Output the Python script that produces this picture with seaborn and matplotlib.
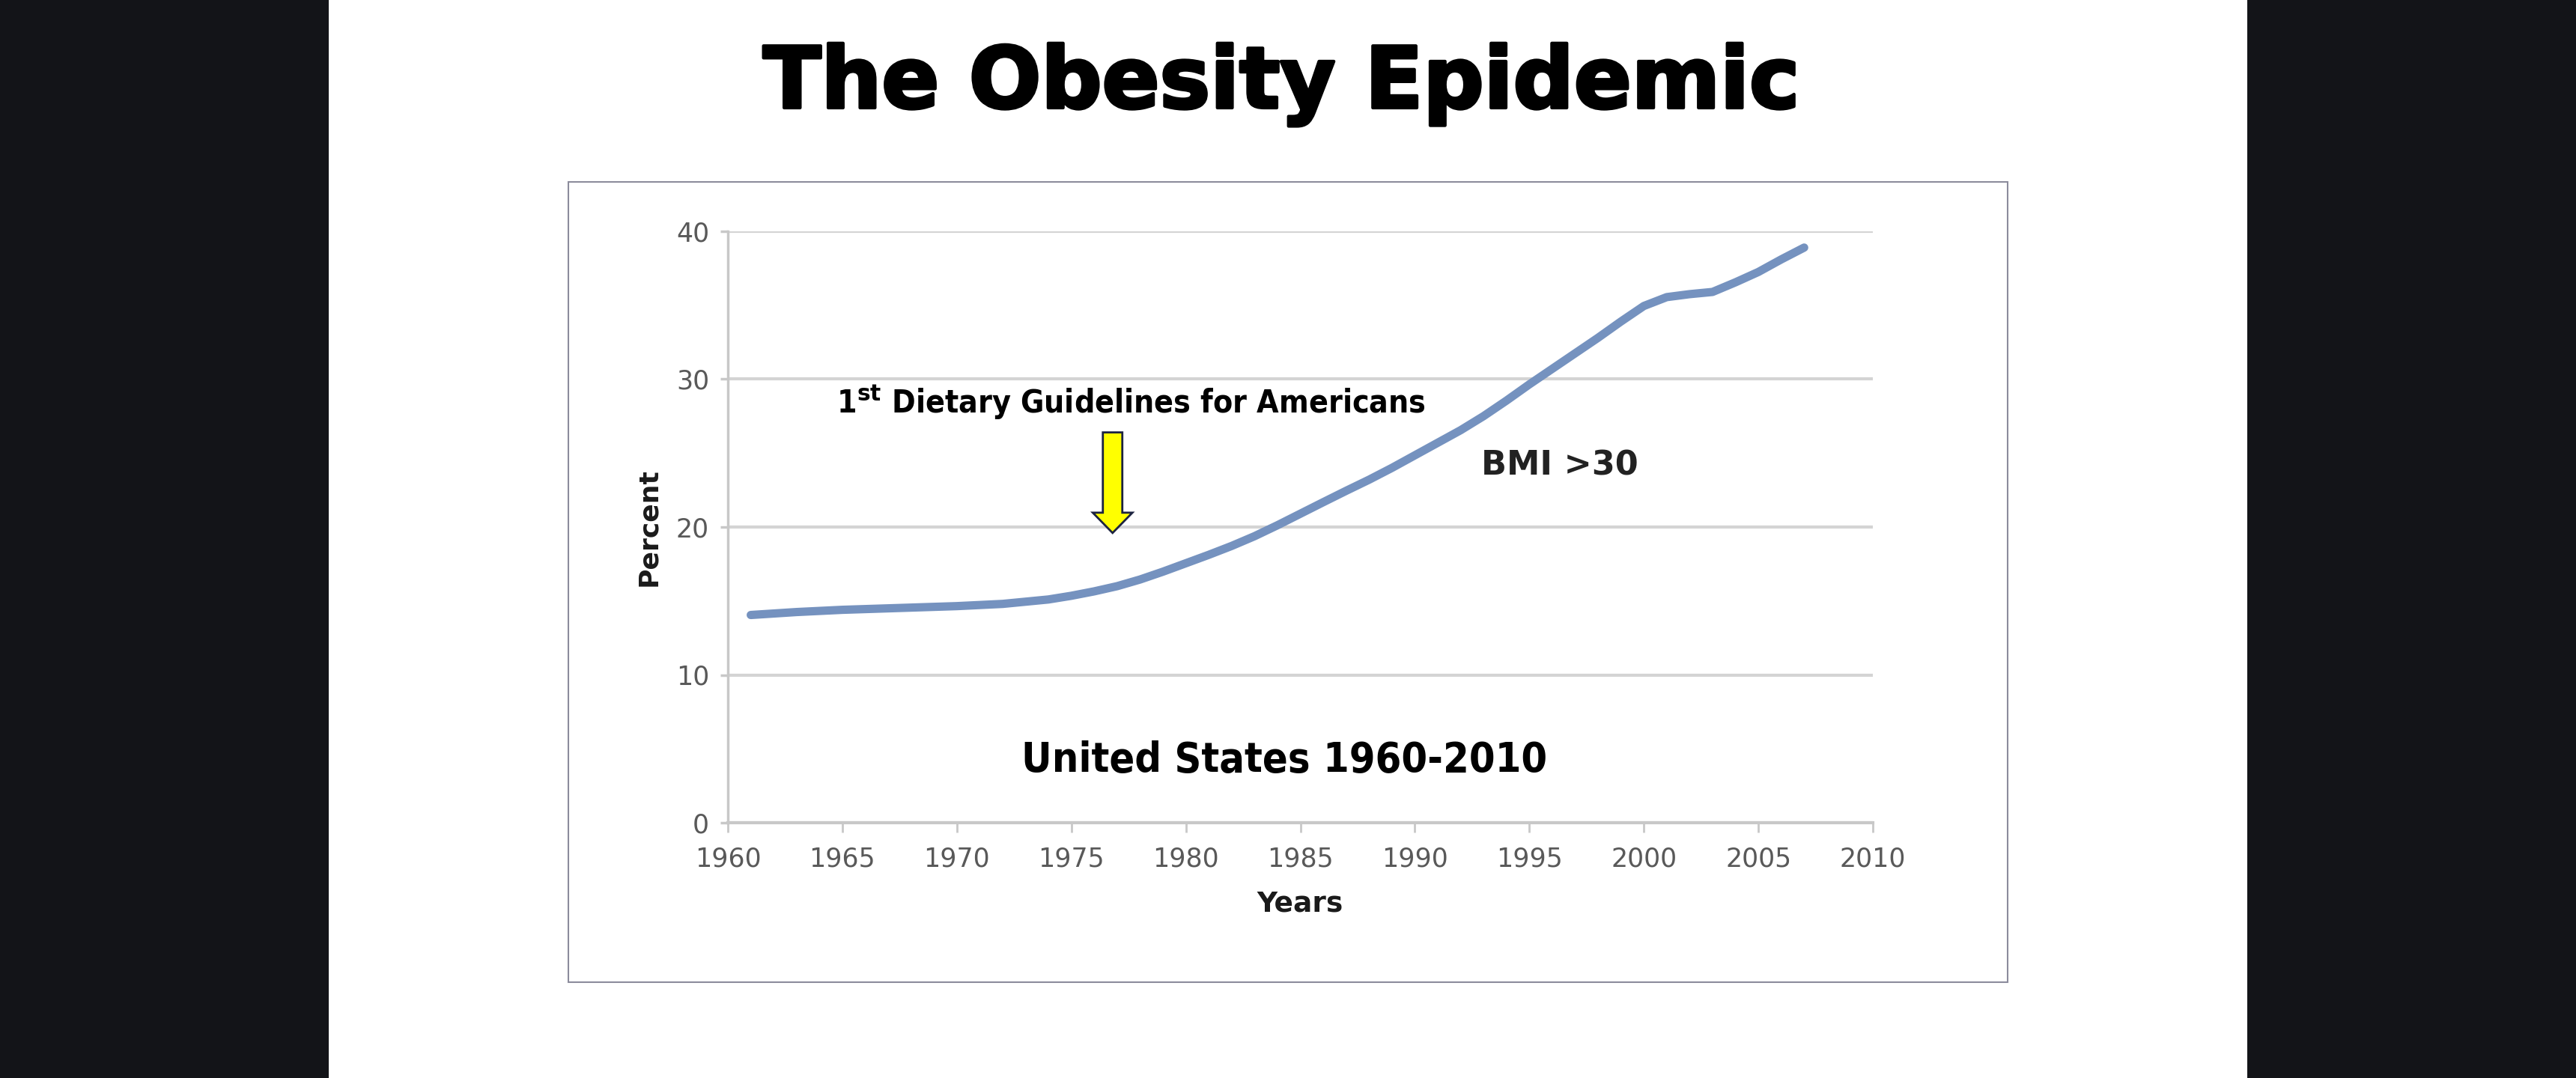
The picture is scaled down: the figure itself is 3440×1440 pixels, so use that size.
import matplotlib
matplotlib.use("Agg")
import matplotlib.pyplot as plt
import matplotlib.patheffects as pe
import seaborn as sns
import pandas as pd
from matplotlib.patches import Rectangle, FancyArrow

# ---- data ----
years = [1961, 1963, 1965, 1967, 1970, 1972, 1974, 1975, 1976, 1977, 1978, 1979,
         1980, 1981, 1982, 1983, 1984, 1985, 1986, 1987, 1988, 1989, 1990, 1991,
         1992, 1993, 1994, 1995, 1996, 1997, 1998, 1999, 2000, 2001, 2002, 2003,
         2004, 2005, 2006, 2007]
percent = [14.05, 14.25, 14.4, 14.5, 14.65, 14.8, 15.1, 15.35, 15.65, 16.0, 16.45, 16.98,
           17.55, 18.12, 18.72, 19.38, 20.12, 20.9, 21.68, 22.45, 23.2, 24.0, 24.85, 25.7,
           26.55, 27.5, 28.55, 29.65, 30.7, 31.75, 32.8, 33.9, 34.95, 35.55, 35.75, 35.9,
           36.55, 37.25, 38.1, 38.9]
x_ticks = [1960, 1965, 1970, 1975, 1980, 1985, 1990, 1995, 2000, 2005, 2010]
y_ticks = [0, 10, 20, 30, 40]
title = "The Obesity Epidemic"
x_label = "Years"
y_label = "Percent"
guideline_year = 1976.8
guideline_text = "1$^{\\mathbf{st}}$ Dietary Guidelines for Americans"
series_label = "BMI >30"
region_label = "United States 1960-2010"

sns.set_theme(style="white")
plt.rcParams['font.family'] = ['DejaVu Sans']

W, H = 3440, 1440
fig = plt.figure(figsize=(W / 100, H / 100), dpi=100, facecolor='white')
renderer = fig.canvas.get_renderer()


def fit_width(txt, target_px):
    bb = txt.get_window_extent(renderer=renderer)
    txt.set_fontsize(txt.get_fontsize() * target_px / bb.width)


# dark side panels
fig.patches.append(Rectangle((0, 0), 439 / W, 1, transform=fig.transFigure,
                             facecolor='#131418', edgecolor='none', zorder=0))
fig.patches.append(Rectangle((3001 / W, 0), 439 / W, 1, transform=fig.transFigure,
                             facecolor='#131418', edgecolor='none', zorder=0))
# chart frame
fig.patches.append(Rectangle((759 / W, 1 - 1312 / H), (2681 - 759) / W, (1312 - 243) / H,
                             transform=fig.transFigure, fill=False,
                             edgecolor='#8c8c9c', lw=1.5, zorder=0))

t = fig.text(1711 / W, 1 - 144 / H, title, ha='center', va='baseline',
             fontsize=80, fontweight='bold', color='black',
             path_effects=[pe.withStroke(linewidth=3, foreground='black')])
fit_width(t, 1385)

ax = fig.add_axes([972 / W, 1 - 1099 / H, (2501 - 972) / W, (1099 - 309) / H])
ax.set_facecolor('none')
df = pd.DataFrame({'Year': years, 'Percent': percent})
sns.lineplot(data=df, x='Year', y='Percent', ax=ax, color='#7592bf', lw=8,
             solid_capstyle='round', solid_joinstyle='round', zorder=3)

ax.set_xlim(1960, 2010)
ax.set_ylim(0, 40)
ax.set_xticks(x_ticks)
ax.set_yticks(y_ticks)
ax.yaxis.grid(True, color='#d4d4d4', lw=3, zorder=1)
ax.xaxis.grid(False)
for s in ['top', 'right']:
    ax.spines[s].set_visible(False)
ax.spines['left'].set_color('#c8c8c8')
ax.spines['left'].set_linewidth(2.5)
ax.spines['bottom'].set_color('#c8c8c8')
ax.spines['bottom'].set_linewidth(3)
ax.tick_params(axis='y', left=True, length=7, width=2.5, color='#c8c8c8',
               labelsize=25, labelcolor='#595959', pad=11)
ax.tick_params(axis='x', bottom=True, length=9, width=2, color='#c8c8c8',
               labelsize=25, labelcolor='#595959', pad=14)
ax.set_xlabel(x_label, fontsize=27, fontweight='bold', color='#1a1a1a', labelpad=18)
ax.set_ylabel(y_label, fontsize=26, fontweight='bold', color='#1a1a1a', labelpad=14)

# arrow marking first dietary guidelines
ax.add_patch(FancyArrow(guideline_year, 26.4, 0, -6.8, width=0.85, head_width=1.73,
                        head_length=1.37, length_includes_head=True,
                        facecolor='#ffff00', edgecolor='#1c2340', lw=2, zorder=4))

g = ax.text(1977.6, 27.66, guideline_text, ha='center', va='baseline', fontsize=31,
            fontweight='bold', fontstretch='condensed', color='black')
fit_width(g, 785)
ax.text(1992.9, 23.5, series_label, ha='left', va='baseline', fontsize=32,
        fontweight='bold', color='#222222')
r = ax.text(1984.3, 3.44, region_label, ha='center', va='baseline', fontsize=40,
            fontweight='bold', fontstretch='condensed', color='black')
fit_width(r, 702)

fig.savefig('out.png', dpi=100, facecolor=fig.get_facecolor())
